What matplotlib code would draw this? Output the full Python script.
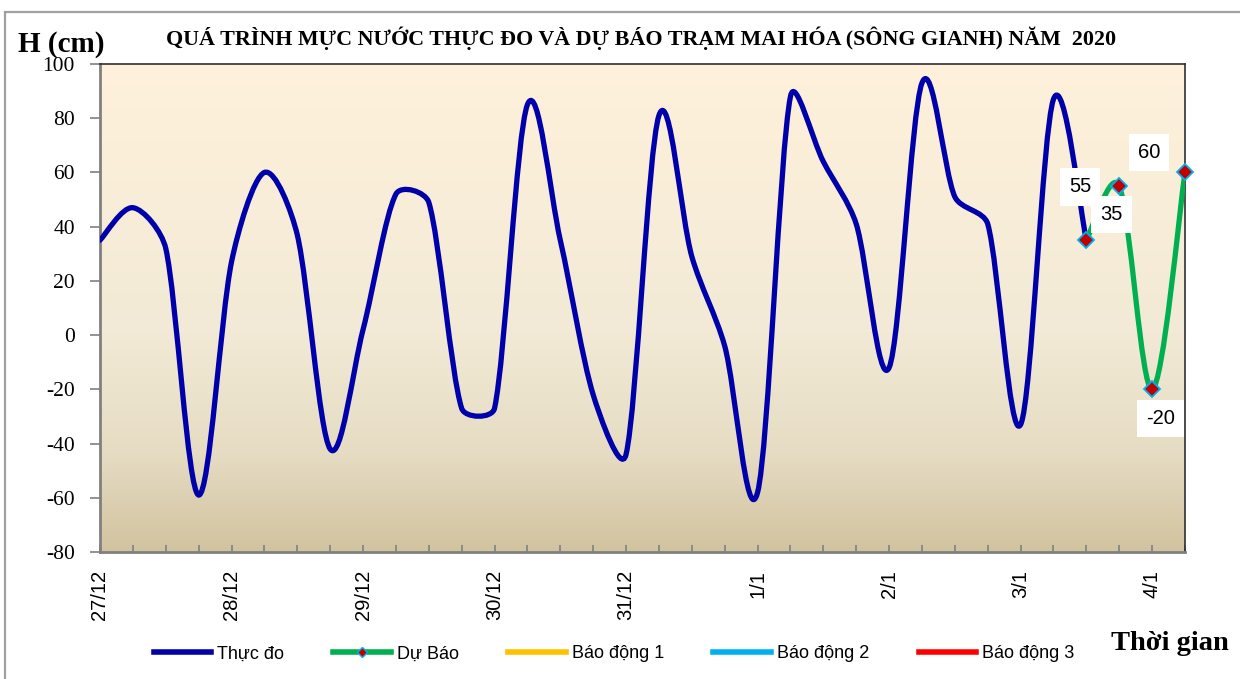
import numpy as np
import matplotlib
matplotlib.use("Agg")
import matplotlib.pyplot as plt
from matplotlib.path import Path
from matplotlib.patches import PathPatch, Rectangle
from matplotlib.lines import Line2D
from matplotlib.colors import LinearSegmentedColormap

plt.rcParams['font.family'] = ['Liberation Sans', 'DejaVu Sans']

# 6-hourly water level, 27/12 00h -> 3/1 12h
measured = [35, 47, 32, -59, 27, 60, 37, -42, 2, 52, 49, -27, -27, 85, 35, -22,
            -44, 81, 29, -4, -58, 88, 64, 41, -12, 93, 51, 41, -33, 87, 35]
# forecast, 3/1 12h -> 4/1 06h
forecast = [35, 55, -20, 60]
forecast_labels = ["35", "55", "-20", "60"]
day_labels = ["27/12", "28/12", "29/12", "30/12", "31/12", "1/1", "2/1", "3/1", "4/1"]

SERIF = ['Liberation Serif', 'DejaVu Serif']

# axes size in pixels, used so the smoothing works in screen space like excel
AX_W, AX_H = 1085, 488
Y_MIN, Y_MAX = -80, 100


# excel-like smoothed line: catmull-rom bezier arms (T/6), each arm clamped
# to a third of the segment it belongs to (done in screen space)
def smooth_path(xs, ys, xmax):
    sx = AX_W / xmax
    sy = AX_H / (Y_MAX - Y_MIN)
    p = np.column_stack([np.asarray(xs) * sx, np.asarray(ys) * sy]).astype(float)
    n = len(p)

    def arm(t, seg_len):
        a = t / 6
        la = np.hypot(*a)
        lim = seg_len / 3
        if la > lim:
            a = a * lim / la
        return a

    verts = [p[0]]
    codes = [Path.MOVETO]
    for i in range(n - 1):
        seg = np.hypot(*(p[i + 1] - p[i]))
        t1 = p[i + 1] - (p[i - 1] if i > 0 else p[i])
        t2 = (p[i + 2] if i + 2 < n else p[i + 1]) - p[i]
        verts += [p[i] + arm(t1, seg), p[i + 1] - arm(t2, seg), p[i + 1]]
        codes += [Path.CURVE4] * 3
    verts = np.array(verts) / [sx, sy]
    return Path(verts, codes)


fig = plt.figure(figsize=(12.4, 6.79), dpi=100)
ax = fig.add_axes([100 / 1240, 1 - 552 / 679, AX_W / 1240, AX_H / 679])

x_meas = np.arange(len(measured))
x_fc = np.arange(len(measured) - 1, len(measured) - 1 + len(forecast))
xmax = x_fc[-1]

# background gradient
cmap = LinearSegmentedColormap.from_list(
    "bg", [(0, "#FFF1DB"), (0.55, "#F2EAD6"), (0.8, "#E6DCC3"), (1, "#D1C39F")])
grad = np.linspace(0, 1, 256).reshape(-1, 1)
ax.imshow(grad, cmap=cmap, aspect='auto', extent=[0, xmax, Y_MIN, Y_MAX],
          origin='upper', zorder=0, interpolation='bicubic')

ax.add_patch(PathPatch(smooth_path(x_meas, measured, xmax), fill=False,
                       edgecolor='#0000AA', lw=3.8, zorder=3, capstyle='round',
                       joinstyle='round'))
ax.add_patch(PathPatch(smooth_path(x_fc, forecast, xmax), fill=False,
                       edgecolor='#00B050', lw=3.8, zorder=4, capstyle='round',
                       joinstyle='round'))
ax.plot(x_fc, forecast, linestyle='none', marker='D', markersize=8,
        markerfacecolor='#C00000', markeredgecolor='#00B0F0',
        markeredgewidth=1.3, zorder=5, clip_on=False)

# data labels (offsets in pixels, as in the original)
offsets = [(25, 26), (-39, -1), (8, -29), (-36, 20)]
for xi, yi, txt, off in zip(x_fc, forecast, forecast_labels, offsets):
    ax.annotate(txt, (xi, yi), xytext=off, textcoords='offset pixels',
                ha='center', va='center', fontsize=14.5, zorder=6,
                bbox=dict(boxstyle='square,pad=0.45', fc='white', ec='none'),
                annotation_clip=False)

ax.set_xlim(0, xmax)
ax.set_ylim(Y_MIN, Y_MAX)
ax.set_yticks(np.arange(Y_MIN, Y_MAX + 1, 20))
ax.set_yticklabels([str(v) for v in range(Y_MIN, Y_MAX + 1, 20)], family=SERIF,
                   fontsize=15.5)
ax.set_xticks(np.arange(0, xmax + 1, 4))
ax.set_xticks(np.arange(0, xmax + 1, 1), minor=True)
ax.set_xticklabels(day_labels, rotation=90, fontsize=14.5)
ax.tick_params(axis='y', direction='out', length=7, width=1.2, color='#808080', pad=11)
ax.tick_params(axis='x', which='both', direction='in', length=5, width=1.2,
               color='#808080', pad=13)

for side in ['left', 'bottom']:
    ax.spines[side].set_color('#808080')
    ax.spines[side].set_linewidth(2)
for side in ['top', 'right']:
    ax.spines[side].set_color('#303030')
    ax.spines[side].set_linewidth(1.2)

fig.text(641 / 1240, 1 - 38 / 679,
         "QUÁ TRÌNH MỰC NƯỚC THỰC ĐO VÀ DỰ BÁO TRẠM MAI HÓA (SÔNG GIANH) NĂM  2020",
         family=SERIF, fontweight='bold', fontsize=15.8, ha='center', va='center')
fig.text(18 / 1240, 1 - 45 / 679, "H (cm)", family=SERIF, fontweight='bold',
         fontsize=21, ha='left', va='center')
fig.text(1111 / 1240, 1 - 643 / 679, "Thời gian", family=SERIF, fontweight='bold',
         fontsize=20.5, ha='left', va='center')

handles = [
    Line2D([], [], color='#0000AA', lw=4),
    Line2D([], [], color='#00B050', lw=4, marker='D', markersize=5,
           markerfacecolor='#C00000', markeredgecolor='#00B0F0'),
    Line2D([], [], color='#FFC000', lw=4),
    Line2D([], [], color='#00B0F0', lw=4),
    Line2D([], [], color='#FF0000', lw=4),
]
names = ["Thực đo", "Dự Báo", "Báo động 1", "Báo động 2", "Báo động 3"]
fig.legend(handles, names, loc='center', bbox_to_anchor=(0.495, 1 - 654 / 679),
           ncol=5, frameon=False, fontsize=13, handlelength=3.2,
           handletextpad=0.3, columnspacing=2.75)

# outer chart border (cut off at right and bottom)
fig.add_artist(Rectangle((5 / 1240, -0.1), 1.2, 1 - 12 / 679 + 0.1,
                         transform=fig.transFigure, fill=False,
                         edgecolor='#A0A0A0', lw=1.6))

fig.savefig("out.png", dpi=100)
